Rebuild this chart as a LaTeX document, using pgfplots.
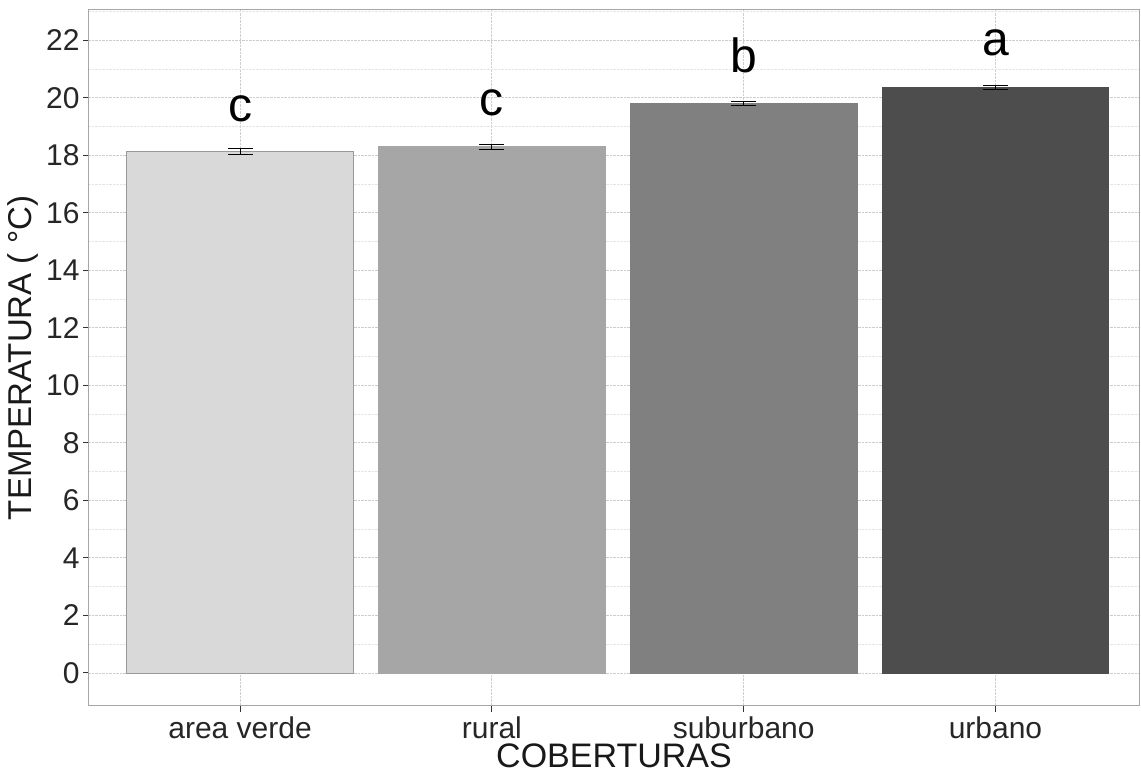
\documentclass[border=0pt]{standalone}
\usepackage{pgfplots}
\pgfplotsset{compat=1.18}
\usepackage{fontspec}
\setmainfont{Liberation Sans}
\definecolor{cA}{RGB}{217,217,217}
\definecolor{cB}{RGB}{166,166,166}
\definecolor{cC}{RGB}{128,128,128}
\definecolor{cD}{RGB}{77,77,77}
\definecolor{gridc}{RGB}{205,205,205}
\definecolor{gridm}{RGB}{228,228,228}
\begin{document}
\begin{tikzpicture}
\begin{axis}[
  at={(0,0)}, anchor=south west,
  scale only axis, width=1050pt, height=696pt,
  xmin=-0.6, xmax=3.57, ymin=-1.15, ymax=23.05,
  xtick={0,1,2,3},
  xticklabels={area verde, rural, suburbano, urbano},
  ytick={0,2,...,22},
  minor ytick={1,3,...,23},
  grid=both,
  major grid style={densely dotted, gridc, line width=0.8pt},
  minor grid style={densely dotted, gridm, line width=0.6pt},
  axis line style={gray!70, line width=1pt},
  tick style={black!80, line width=1pt},
  tick align=outside,
  major tick length=6pt,
  minor tick length=0pt,
  xtick pos=bottom, ytick pos=left,
  /pgf/number format/assume math mode=true,
  tick label style={font=\fontsize{30}{34}\selectfont, text=black!85},
  xticklabel style={yshift=-1pt},
  xlabel={COBERTURAS},
  ylabel={TEMPERATURA ( °C)},
  xlabel style={font=\fontsize{34}{38}\selectfont, text=black!90,
    at={(axis description cs:0.5,-0.072)}, anchor=center},
  ylabel style={font=\fontsize{33}{36}\selectfont, text=black!90,
    at={(axis description cs:-0.063,0.5)}, anchor=center},
]
\addplot[ybar, bar width=0.9, bar shift=0pt, fill=cA, draw=gray!80, line width=0.8pt,
  error bars/.cd, y dir=both, y explicit,
  error bar style={black, line width=1pt},
  error mark options={rotate=90, mark size=12.5pt, black, line width=1pt}]
  coordinates {(0,18.12) +- (0,0.10)};
\addplot[ybar, bar width=0.9, bar shift=0pt, fill=cB, draw=cB, line width=0.8pt,
  error bars/.cd, y dir=both, y explicit,
  error bar style={black, line width=1pt},
  error mark options={rotate=90, mark size=12.5pt, black, line width=1pt}]
  coordinates {(1,18.29) +- (0,0.08)};
\addplot[ybar, bar width=0.9, bar shift=0pt, fill=cC, draw=cC, line width=0.8pt,
  error bars/.cd, y dir=both, y explicit,
  error bar style={black, line width=1pt},
  error mark options={rotate=90, mark size=12.5pt, black, line width=1pt}]
  coordinates {(2,19.80) +- (0,0.07)};
\addplot[ybar, bar width=0.9, bar shift=0pt, fill=cD, draw=cD, line width=0.8pt,
  error bars/.cd, y dir=both, y explicit,
  error bar style={black, line width=1pt},
  error mark options={rotate=90, mark size=12.5pt, black, line width=1pt}]
  coordinates {(3,20.37) +- (0,0.07)};
\addplot[only marks, mark=none, nodes near coords, point meta=explicit symbolic,
  every node near coord/.style={font=\fontsize{48}{52}\selectfont, text=black, anchor=center}]
  table[meta=lab] {
x y lab
0 19.62 c
1 19.83 c
2 21.48 b
3 21.92 a
};
\end{axis}
\pgfresetboundingbox
\useasboundingbox (-89pt,-70pt) rectangle (1052pt,706pt);
\end{tikzpicture}
\end{document}
